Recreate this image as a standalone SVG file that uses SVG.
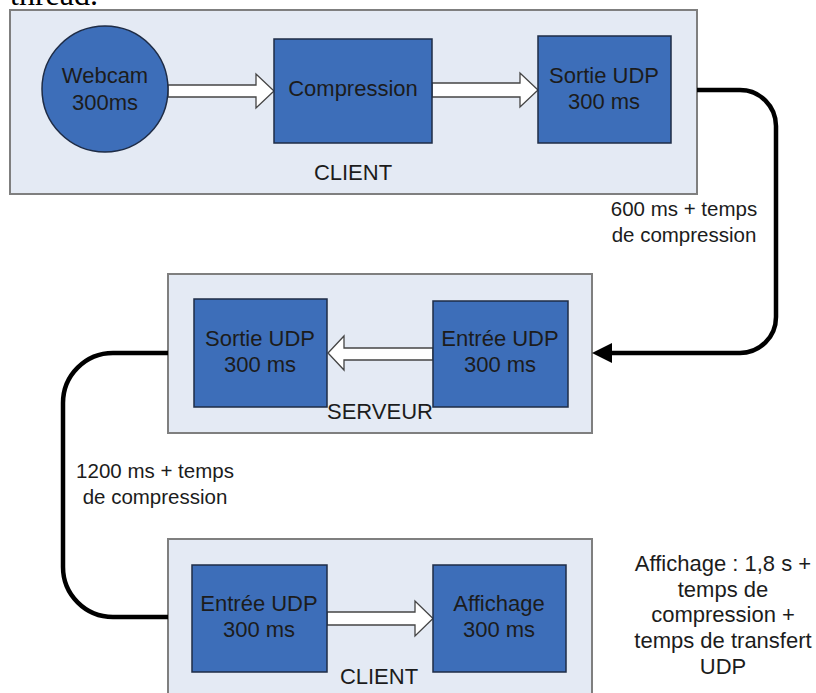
<svg xmlns="http://www.w3.org/2000/svg" width="816" height="693" viewBox="0 0 816 693">
  <defs>
    <style>
      .zone { fill: #e4eaf4; stroke: #7f7f7f; stroke-width: 2; }
      .box { fill: #3d6eb9; stroke: #1e2c46; stroke-width: 1.5; }
      .lbl { font-family: "Liberation Sans", Arial, sans-serif; font-size: 22px; fill: #1c1c1c; text-anchor: middle; }
      .sm { font-size: 20.5px; }
      .hollow { fill: #ffffff; stroke: #444444; stroke-width: 1.3; stroke-linejoin: miter; }
      .wire { fill: none; stroke: #000000; stroke-width: 4.5; }
    </style>
    <marker id="head" markerUnits="userSpaceOnUse" markerWidth="20" markerHeight="20" refX="8" refY="10" orient="auto">
      <path d="M0,0 L20,10 L0,20 Z" fill="#000000"/>
    </marker>
  </defs>

  <rect width="816" height="693" fill="#ffffff"/>

  <!-- trailing line of the preceding paragraph -->
  <text x="10" y="5" font-family="'Liberation Serif', 'Times New Roman', serif" font-size="32" fill="#000000">thread.</text>

  <!-- containers -->
  <g id="client-top">
    <rect class="zone" x="10" y="10" width="687" height="184"/>
    <text class="lbl" x="353" y="180">CLIENT</text>
  </g>
  <g id="serveur">
    <rect class="zone" x="168" y="274" width="424" height="159"/>
    <text class="lbl" x="380" y="419">SERVEUR</text>
  </g>
  <g id="client-bottom">
    <rect class="zone" x="168" y="539" width="424" height="170"/>
    <text class="lbl" x="379" y="684">CLIENT</text>
  </g>

  <!-- connectors -->
  <g id="connectors">
    <path class="hollow" d="M168,85 H256 V74 L274,91 L256,108 V97 H168 Z"/>
    <path class="hollow" d="M432,83 H520 V73 L538,90 L520,107 V97 H432 Z"/>
    <path class="hollow" d="M433,348 H344 V336 L328,353 L344,370 V360 H433 Z"/>
    <path class="hollow" d="M327,612 H415 V601 L433,618.5 L415,636 V625 H327 Z"/>
    <path class="wire" d="M697,90 H740 A36,36 0 0 1 776,126 V317 A36,36 0 0 1 740,353 H604" marker-end="url(#head)"/>
    <path class="wire" d="M168,353 H113 A50,50 0 0 0 63,403 V567 A50,50 0 0 0 113,617 H168"/>
    <text class="lbl sm" x="684" y="216">600 ms + temps</text>
    <text class="lbl sm" x="684" y="242">de compression</text>
    <text class="lbl sm" x="155" y="478">1200 ms + temps</text>
    <text class="lbl sm" x="155" y="504">de compression</text>
  </g>

  <!-- nodes -->
  <g id="webcam">
    <circle class="box" cx="105" cy="89" r="63"/>
    <text class="lbl" x="105" y="83">Webcam</text>
    <text class="lbl" x="105" y="110">300ms</text>
  </g>
  <g id="compression">
    <rect class="box" x="274" y="39" width="158" height="104"/>
    <text class="lbl" x="353" y="96">Compression</text>
  </g>
  <g id="sortie-udp-client">
    <rect class="box" x="538" y="36" width="133" height="107"/>
    <text class="lbl" x="604" y="83">Sortie UDP</text>
    <text class="lbl" x="604" y="109">300 ms</text>
  </g>
  <g id="sortie-udp-serveur">
    <rect class="box" x="194" y="299" width="133" height="108"/>
    <text class="lbl" x="260" y="346">Sortie UDP</text>
    <text class="lbl" x="260" y="372">300 ms</text>
  </g>
  <g id="entree-udp-serveur">
    <rect class="box" x="433" y="301" width="135" height="106"/>
    <text class="lbl" x="500" y="346">Entrée UDP</text>
    <text class="lbl" x="500" y="372">300 ms</text>
  </g>
  <g id="entree-udp-client">
    <rect class="box" x="192" y="565" width="135" height="107"/>
    <text class="lbl" x="259" y="611">Entrée UDP</text>
    <text class="lbl" x="259" y="637">300 ms</text>
  </g>
  <g id="affichage">
    <rect class="box" x="433" y="565" width="133" height="107"/>
    <text class="lbl" x="499" y="611">Affichage</text>
    <text class="lbl" x="499" y="637">300 ms</text>
  </g>

  <!-- summary note -->
  <g id="note">
    <text class="lbl" x="723" y="571">Affichage : 1,8 s +</text>
    <text class="lbl" x="723" y="597">temps de</text>
    <text class="lbl" x="723" y="622">compression +</text>
    <text class="lbl" x="723" y="648">temps de transfert</text>
    <text class="lbl" x="723" y="674">UDP</text>
  </g>
</svg>
